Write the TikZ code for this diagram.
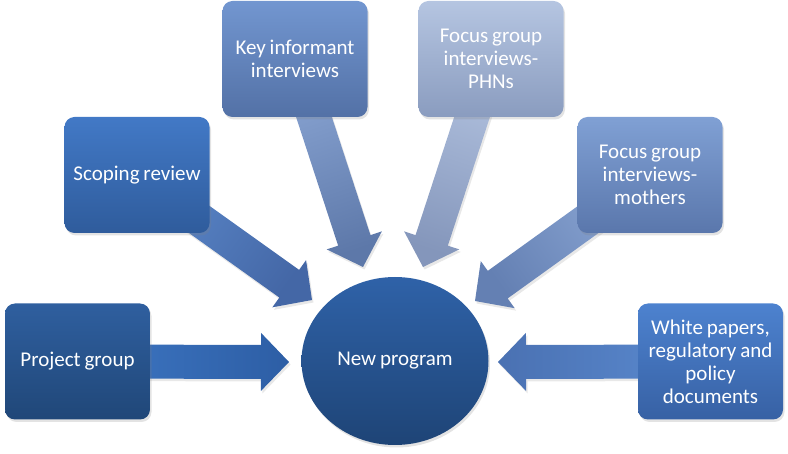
\documentclass[tikz,border=0pt]{standalone}
\usepackage{fontspec}
\setmainfont[WordSpace=0.8]{Carlito}
\usetikzlibrary{calc,shadows,shapes.geometric}
\definecolor{pgT}{HTML}{2F5F9F}\definecolor{pgB}{HTML}{204778}
\definecolor{srT}{HTML}{4279C6}\definecolor{srB}{HTML}{2F5C9C}
\definecolor{kiT}{HTML}{7296D0}\definecolor{kiB}{HTML}{5371A6}
\definecolor{phT}{HTML}{B5C5E1}\definecolor{phB}{HTML}{8A9CBF}
\definecolor{moT}{HTML}{80A0D4}\definecolor{moB}{HTML}{5A77AC}
\definecolor{wpT}{HTML}{4D82CF}\definecolor{wpB}{HTML}{3761A4}
\definecolor{ciT}{HTML}{2F62A8}\definecolor{ciB}{HTML}{1E4476}
\definecolor{apA}{HTML}{3E77C4}\definecolor{apB}{HTML}{2D5EA5}
\definecolor{asA}{HTML}{5C89CB}\definecolor{asB}{HTML}{4467A6}
\definecolor{akA}{HTML}{8CA7D5}\definecolor{akB}{HTML}{5D78A9}
\definecolor{ahA}{HTML}{B3C3E0}\definecolor{ahB}{HTML}{8496BB}
\definecolor{amA}{HTML}{8FAAD7}\definecolor{amB}{HTML}{6480B3}
\definecolor{awA}{HTML}{5B8BD1}\definecolor{awB}{HTML}{4A71B2}
\newcommand\myarrow[5]{%
  \path[arrowfill, top color=#3, bottom color=#4, shading angle=#5]
    ($(#1)!17pt!90:(#2)$)
    -- ($(#2)!28pt!(#1)!17pt!90:(#2)$)
    -- ($(#2)!28pt!(#1)!29pt!90:(#2)$)
    -- (#2)
    -- ($(#2)!28pt!(#1)!29pt!-90:(#2)$)
    -- ($(#2)!28pt!(#1)!17pt!-90:(#2)$)
    -- ($(#1)!17pt!-90:(#2)$) -- cycle;}
\begin{document}
\begin{tikzpicture}[x=1pt,y=-1pt,
  box/.style={rectangle, rounded corners=10pt, minimum width=145pt, minimum height=116pt,
    inner sep=0pt, text width=140pt, align=flush center, text=white,
    font=\fontsize{21}{23}\selectfont,
    drop shadow={opacity=0.22, shadow xshift=1.5pt, shadow yshift=-2.5pt}},
  arrowfill/.style={drop shadow={opacity=0.18, shadow xshift=1.5pt, shadow yshift=-2.5pt}},
  hub/.style={ellipse, minimum width=187pt, minimum height=168pt, inner sep=0pt,
    text=white, font=\fontsize{21}{23}\selectfont,
    drop shadow={opacity=0.22, shadow xshift=1.5pt, shadow yshift=-2.5pt}}]
\useasboundingbox (0,0) rectangle (788,454);
% tips
\coordinate (tpg) at (289,362);
\coordinate (tsr) at (312,300);
\coordinate (tki) at (363,267);
\coordinate (tph) at (423,267);
\coordinate (tmo) at (475,301);
\coordinate (twp) at (498,362);
% box centres (for arrow tails)
\coordinate (cpg) at (77.5,361.5);
\coordinate (csr) at (137,175);
\coordinate (cki) at (295,59);
\coordinate (cph) at (491,59);
\coordinate (cmo) at (650,175);
\coordinate (cwp) at (710.5,361.5);
% arrows
\myarrow{cpg}{tpg}{apA}{apB}{90}
\myarrow{csr}{tsr}{asA}{asB}{54.5}
\myarrow{cki}{tki}{akA}{akB}{18.1}
\myarrow{cph}{tph}{ahA}{ahB}{-18.1}
\myarrow{cmo}{tmo}{amA}{amB}{305.5}
\myarrow{cwp}{twp}{awA}{awB}{270}
% boxes
\node[box, top color=pgT, bottom color=pgB] (pg) at (cpg) {Project group};
\node[box, top color=srT, bottom color=srB] (sr) at (csr) {Scoping review};
\node[box, top color=kiT, bottom color=kiB] (ki) at (cki) {Key informant\\interviews};
\node[box, top color=phT, bottom color=phB] (ph) at (cph) {Focus group\\interviews-\\PHNs};
\node[box, top color=moT, bottom color=moB] (mo) at (cmo) {Focus group\\interviews-\\mothers};
\node[box, top color=wpT, bottom color=wpB] (wp) at (cwp) {White papers,\\regulatory and\\policy\\documents};
\node[hub, top color=ciT, bottom color=ciB] (np) at (395,361) {New program};
\end{tikzpicture}
\end{document}
